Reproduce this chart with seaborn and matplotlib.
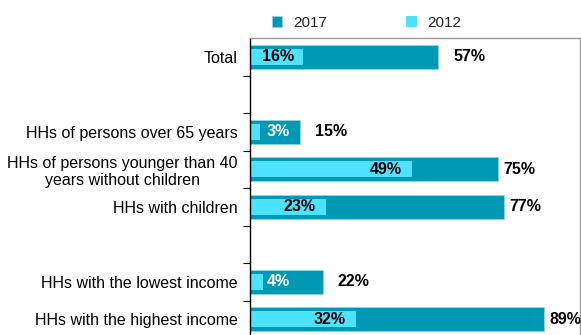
import numpy as np
import pandas as pd
import matplotlib
matplotlib.use('Agg')
import matplotlib.pyplot as plt
import seaborn as sns

# data
rows = ['Total', ' ', 'HHs of persons over 65 years',
        'HHs of persons younger than 40\nyears without children',
        'HHs with children', '  ',
        'HHs with the lowest income', 'HHs with the highest income']
groups = ['Total', 'HHs of persons over 65 years',
          'HHs of persons younger than 40\nyears without children',
          'HHs with children', 'HHs with the lowest income',
          'HHs with the highest income']
vals_2017 = [57, 15, 75, 77, 22, 89]
vals_2012 = [16, 3, 49, 23, 4, 32]

dark = '#0099B5'
light = '#4DE3FF'

df = pd.DataFrame({'group': groups, 'y2017': vals_2017, 'y2012': vals_2012})

sns.set_style('white')
plt.rcParams['font.family'] = ['Liberation Sans', 'DejaVu Sans']

fig = plt.figure(figsize=(5.81, 3.35), dpi=100)
ax = fig.add_axes([250 / 581, -3 / 335, 330 / 581, 300 / 335])

sns.barplot(data=df, x='y2017', y='group', order=rows, orient='h',
            color=dark, width=0.65, edgecolor='#8fd6e3', linewidth=0.6,
            saturation=1, ax=ax, label='2017')
sns.barplot(data=df, x='y2012', y='group', order=rows, orient='h',
            color=light, width=0.43, linewidth=0, saturation=1, ax=ax,
            label='2012')

ax.set_xlim(0, 100)
ax.set_ylim(len(rows) - 0.5, -0.5)
ax.set_xlabel('')
ax.set_ylabel('')
ax.set_xticks([])

# value labels
for g, v17, v12 in zip(groups, vals_2017, vals_2012):
    i = rows.index(g)
    off = 11 if v17 < 70 else 4
    ax.annotate(f'{v17}%', (v17, i), xytext=(off, 0), textcoords='offset points',
                va='center', ha='left', fontsize=11.5, fontweight='bold',
                color='black', annotation_clip=False)
    xl = max(v12 - 8, 8.5)
    col = 'black' if xl < v12 else 'white'
    ax.text(xl, i, f'{v12}%', va='center', ha='center', fontsize=11.5,
            fontweight='bold', color=col)

ax.tick_params(axis='y', which='major', length=0, pad=9, labelsize=11.5,
               labelcolor='black')
ax.set_yticks(np.arange(len(rows)) + 0.5, minor=True)
ax.tick_params(axis='y', which='minor', length=5, width=0.8, color='black',
               direction='out', left=True)
for lab in ax.get_yticklabels():
    lab.set_multialignment('center')

for s in ['top', 'right', 'bottom']:
    ax.spines[s].set_color('#999999')
    ax.spines[s].set_linewidth(1.0)
ax.spines['left'].set_color('black')
ax.spines['left'].set_linewidth(1.0)

leg = ax.legend(loc='lower left', bbox_to_anchor=(0.04, 1.0), ncol=2,
                frameon=False, fontsize=11, handlelength=0.7,
                handleheight=0.7, columnspacing=5.2, handletextpad=0.7,
                borderaxespad=0.15)

fig.savefig('out.png', dpi=100)
